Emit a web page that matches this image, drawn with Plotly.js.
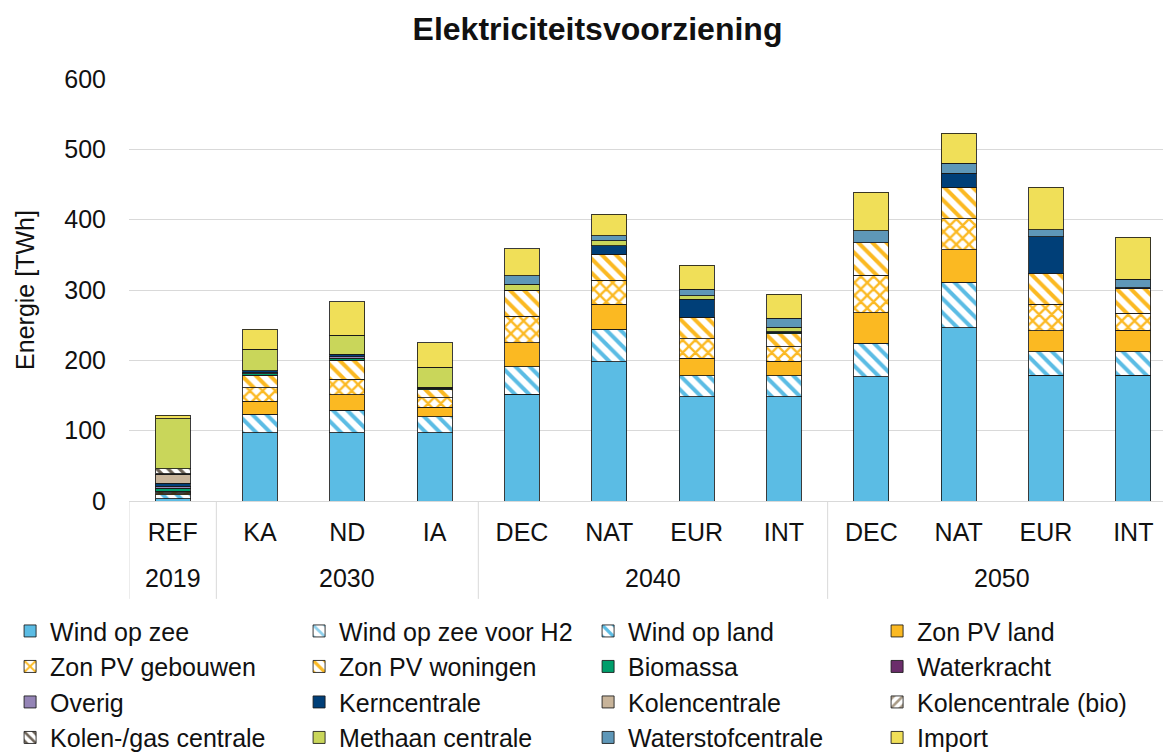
<!DOCTYPE html>
<html>
<head>
<meta charset="utf-8">
<script src="https://cdn.plot.ly/plotly-3.0.1.min.js"></script>
<style>html,body{margin:0;padding:0;background:#fff;overflow:hidden}</style>
</head>
<body>
<div id="chart" style="width:1167px;height:753px"></div>
<script>
// categorieen: jaar + scenario
let jaren = ["2019", "2030", "2030", "2030", "2040", "2040", "2040", "2040", "2050", "2050", "2050", "2050"];
let scenarios = ["REF", "KA", "ND", "IA", "DEC", "NAT", "EUR", "INT", "DEC", "NAT", "EUR", "INT"];

// TWh per bron
let windZee     = [3, 97, 97, 97, 152, 198, 148, 148, 177, 246, 179, 179];
let windZeeH2   = [0, 0, 0, 0, 0, 0, 0, 0, 0, 0, 0, 0];
let windLand    = [6, 26, 32, 23, 39, 46, 30, 30, 47, 65, 33, 33];
let zonLand     = [1, 19, 22, 13, 34, 36, 25, 21, 44, 46, 30, 31];
let zonGebouwen = [2, 19, 22, 14, 38, 34, 28, 20, 53, 44, 38, 24];
let zonWoningen = [2, 18, 27, 11, 36, 37, 30, 19, 46, 45, 43, 35];
let biomassa    = [4, 2, 3, 2, 1, 0, 0, 1, 0, 0, 0, 0];
let waterkracht = [0, 0, 0, 0, 0, 0, 0, 0, 0, 0, 0, 0];
let overig      = [3, 1, 2, 1, 0, 0, 0, 0, 0, 0, 0, 0];
let kern        = [4, 3, 4, 1, 0, 12, 26, 2, 0, 20, 53, 1];
let kolen       = [13, 0, 0, 0, 0, 0, 0, 0, 0, 0, 0, 0];
let kolenBio    = [1, 0, 0, 0, 0, 0, 0, 0, 0, 0, 0, 0];
let kolenGas    = [7, 0, 0, 0, 0, 0, 0, 0, 0, 0, 0, 0];
let methaan     = [71, 31, 27, 28, 8, 7, 5, 6, 0, 0, 0, 0];
let waterstof   = [0, 0, 0, 0, 12, 7, 9, 13, 17, 14, 10, 12];
let importEl    = [5, 28, 47, 35, 39, 31, 34, 34, 55, 43, 60, 60];

// positie van elke staaf op de as (volgorde van de categorieen)
let posities = scenarios.map((s, i) => i);

function serie(naam, waarden, kleur, patroon) {
    let marker = {color: kleur, line: {color: "rgba(25,25,25,0.85)", width: 1}};
    if (patroon) {
        marker.pattern = {shape: patroon.shape, fgcolor: kleur, bgcolor: "#ffffff",
                          size: patroon.size, solidity: patroon.solidity};
    }
    return {type: "bar", name: naam, x: posities, y: waarden,
            marker: marker, hoverinfo: "name+y"};
}

let data = [
    serie("Wind op zee", windZee, "#5bbce4"),
    serie("Wind op zee voor H2", windZeeH2, "#8fd0ec", {shape: "\\", size: 10, solidity: 0.35}),
    serie("Wind op land", windLand, "#5bbce4", {shape: "\\", size: 10, solidity: 0.4}),
    serie("Zon PV land", zonLand, "#fbb922"),
    serie("Zon PV gebouwen", zonGebouwen, "#fbb922", {shape: "x", size: 9, solidity: 0.45}),
    serie("Zon PV woningen", zonWoningen, "#fbb922", {shape: "\\", size: 10, solidity: 0.4}),
    serie("Biomassa", biomassa, "#009e6b"),
    serie("Waterkracht", waterkracht, "#6b2d6b"),
    serie("Overig", overig, "#9484b6"),
    serie("Kerncentrale", kern, "#003f78"),
    serie("Kolencentrale", kolen, "#c8b49a"),
    serie("Kolencentrale (bio)", kolenBio, "#a89a86", {shape: "/", size: 8, solidity: 0.4}),
    serie("Kolen-/gas centrale", kolenGas, "#6e6458", {shape: "\\", size: 8, solidity: 0.4}),
    serie("Methaan centrale", methaan, "#c9d65a"),
    serie("Waterstofcentrale", waterstof, "#5e97b8"),
    serie("Import", importEl, "#f0df58")
];

// jaargroepen: labels in het midden, scheidingslijnen op de grenzen
let groepen = [];
jaren.forEach((j, i) => {
    let g = groepen[groepen.length - 1];
    if (g && g.jaar === j) g.eind = i;
    else groepen.push({jaar: j, begin: i, eind: i});
});

let jaarLabels = groepen.map(g => ({
    text: g.jaar, x: (g.begin + g.eind) / 2, xref: "x",
    y: -0.1825, yref: "paper", yanchor: "middle", showarrow: false,
    font: {size: 25, color: "#111111"}
}));

let scheidingen = groepen.map(g => g.begin - 0.5).map(xb => ({
    type: "line", xref: "x", yref: "paper", x0: xb, x1: xb, y0: 0, y1: -0.232,
    line: {color: "#d9d9d9", width: 1}
}));

let layout = {
    width: 1167,
    height: 753,
    barmode: "stack",
    bargap: 0.6,
    paper_bgcolor: "#ffffff",
    plot_bgcolor: "#ffffff",
    font: {family: "Liberation Sans, Arial, sans-serif", color: "#111111", size: 24},
    title: {
        text: "<b>Elektriciteitsvoorziening</b>",
        font: {size: 32, color: "#111111"},
        x: 0.512, xanchor: "center", y: 0.962, yanchor: "middle"
    },
    margin: {l: 129, r: 4, t: 79, b: 252, pad: 0, autoexpand: false},
    xaxis: {
        range: [-0.5, 11.34],
        tickvals: posities,
        ticktext: scenarios,
        showgrid: false,
        showline: false,
        zeroline: false,
        ticks: "",
        ticklabelstandoff: 14,
        tickfont: {size: 25}
    },
    yaxis: {
        range: [0, 600],
        dtick: 100,
        showgrid: true,
        gridcolor: "#d9d9d9",
        zeroline: true,
        zerolinecolor: "#d9d9d9",
        zerolinewidth: 1,
        ticks: "",
        ticklabelstandoff: 22,
        tickfont: {size: 25},
        title: {text: "Energie [TWh]", font: {size: 25}, standoff: 22}
    },
    annotations: jaarLabels,
    shapes: scheidingen,
    legend: {
        orientation: "h",
        traceorder: "normal",
        x: -0.115,
        xanchor: "left",
        y: -0.254,
        yanchor: "top",
        entrywidth: 244,
        entrywidthmode: "pixels",
        font: {size: 25}
    },
    showlegend: true
};

Plotly.newPlot("chart", data, layout, {displayModeBar: false, staticPlot: true});
</script>
</body>
</html>
